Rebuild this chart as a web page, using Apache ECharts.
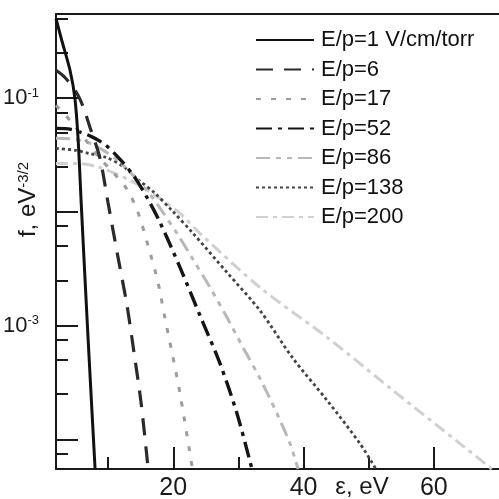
<!DOCTYPE html>
<html>
<head>
<meta charset="utf-8">
<script src="https://cdn.jsdelivr.net/npm/echarts@6/dist/echarts.min.js"></script>
<style>html,body{margin:0;padding:0;background:#fff;}#c{width:499px;height:499px;}</style>
</head>
<body>
<div id="c"></div>
<script>
// ---- data (energy eps in eV, distribution f in eV^-3/2) ----
const seriesNames = ['E/p=1 V/cm/torr', 'E/p=6', 'E/p=17', 'E/p=52', 'E/p=86', 'E/p=138', 'E/p=200'];

const eps1 = [2.0, 2.9, 4.15, 4.9, 5.4, 5.9, 6.9, 8.0];
const f1   = [0.5, 0.32, 0.176, 0.10, 0.043, 0.011, 8.2e-4, 5.5e-5];

const eps2 = [2.0, 3.38, 5.22, 6.14, 7.22, 8.75, 9.98, 11.52, 12.9, 13.97, 15.05, 16.12];
const f2   = [0.176, 0.152, 0.110, 0.0848, 0.0554, 0.0296, 0.0121, 0.00399, 0.00151, 5.83e-4, 2.12e-4, 5.7e-5];

const eps3 = [2.0, 4.15, 6.6, 8.6, 10.75, 12.9, 14.59, 16.12, 17.66, 18.73, 19.8, 21.03, 22.95];
const f3   = [0.0865, 0.0638, 0.0426, 0.0302, 0.0223, 0.0158, 0.0099, 0.00508, 0.0024, 0.00116, 5.83e-4, 2.54e-4, 5.5e-5];

const eps4 = [2.0, 4.3, 7.37, 9.67, 11.98, 13.97, 15.97, 17.96, 21.03, 24.1, 27.17, 29.78, 32.08];
const f4   = [0.0543, 0.0532, 0.0462, 0.0385, 0.0284, 0.0206, 0.0134, 0.0081, 0.00326, 0.00123, 4.66e-4, 1.69e-4, 5.5e-5];

const eps5 = [2.0, 4.92, 7.22, 9.52, 11.82, 14.13, 16.43, 18.42, 20.57, 23.03, 25.64, 28.25, 30.7, 33.31, 35.92, 37.92, 39.15];
const f5   = [0.0444, 0.0435, 0.0401, 0.0341, 0.0273, 0.0201, 0.0143, 0.0099, 0.00649, 0.00383, 0.00217, 0.00118, 6.45e-4, 3.44e-4, 1.69e-4, 9.2e-5, 5.5e-5];

const eps6 = [2.0, 5.07, 7.07, 9.67, 12.28, 14.74, 17.2, 19.8, 23.03, 28.25, 33.31, 38.38, 43.6, 48.66, 51.1];
const f6   = [0.0362, 0.0348, 0.0327, 0.0302, 0.0252, 0.019, 0.0146, 0.0103, 0.00649, 0.00294, 0.00136, 5.16e-4, 2.21e-4, 9.2e-5, 5.5e-5];

const eps7 = [2.0, 5.07, 8.6, 13.36, 17.2, 21.03, 24.1, 33.31, 43.6, 53.73, 64.01, 68.9];
const f7   = [0.0267, 0.0267, 0.0247, 0.019, 0.014, 0.00972, 0.00649, 0.00217, 7.9e-4, 2.7e-4, 9.2e-5, 5.5e-5];

// ---- axis ticks / labels ----
const xMajorTicks = [20, 40, 60];
const xMinorTicks = [10, 30, 50];
const xTickLabels = [20, 40, 60];
const yMajorTicks = [1e-4, 1e-3, 1e-2, 1e-1];
const yMinorTicks = [7.5e-5, 2.5e-4, 5e-4, 7.5e-4, 2.5e-3, 5e-3, 7.5e-3, 2.5e-2, 5e-2, 7.5e-2, 0.25, 0.5];
const yTickLabels = [1e-3, 1e-1];

const FONT = "'Liberation Sans', Arial, Helvetica, sans-serif";
const pairs = (xs, ys) => xs.map((x, i) => [x, ys[i]]);
const allEps = [eps1, eps2, eps3, eps4, eps5, eps6, eps7];
const allF = [f1, f2, f3, f4, f5, f6, f7];
const styles = [
  { color: '#111111', width: 3, type: 'solid' },
  { color: '#2a2a2a', width: 3.2, type: [17, 11] },
  { color: '#9c9c9c', width: 3, type: [5, 10] },
  { color: '#151515', width: 3.4, type: [16, 6, 4, 6] },
  { color: '#b8b8b8', width: 3, type: [14, 6, 5, 6, 5, 6] },
  { color: '#444444', width: 2.8, type: [3, 3] },
  { color: '#d0d0d0', width: 3, type: [12, 5, 4, 5] }
];

const chart = echarts.init(document.getElementById('c'), null, { renderer: 'canvas' });
const axisLineStyle = { color: '#1a1a1a', width: 2 };

chart.setOption({
  animation: false,
  backgroundColor: '#ffffff',
  grid: { left: 56, right: 0, top: 14, bottom: 30, containLabel: false, outerBoundsMode: 'none' },
  legend: {
    orient: 'vertical', left: 255, top: 29, padding: 0,
    itemWidth: 58, itemHeight: 14, itemGap: 7.5,
    itemStyle: { opacity: 0 },
    textStyle: { fontSize: 22, fontFamily: FONT, color: '#111', padding: [0, 0, 0, 2], lineHeight: 21 },
    data: seriesNames
  },
  xAxis: [
    {
      type: 'value', min: 2, max: 70, position: 'bottom',
      axisLine: { show: true, onZero: false, lineStyle: axisLineStyle },
      axisTick: { show: true, inside: true, length: 22, customValues: xMajorTicks, lineStyle: { color: '#1a1a1a', width: 2 } },
      axisLabel: { show: true, customValues: xTickLabels, margin: 7, fontSize: 25, fontFamily: FONT, color: '#1a1a1a' },
      splitLine: { show: false }
    },
    {
      type: 'value', min: 2, max: 70, position: 'bottom',
      axisLine: { show: false, onZero: false },
      axisTick: { show: true, inside: true, length: 12, customValues: xMinorTicks, lineStyle: { color: '#1a1a1a', width: 2 } },
      axisLabel: { show: false },
      splitLine: { show: false }
    },
    {
      type: 'value', min: 2, max: 70, position: 'top',
      axisLine: { show: true, onZero: false, lineStyle: axisLineStyle },
      axisTick: { show: false }, axisLabel: { show: false }, splitLine: { show: false }
    }
  ],
  yAxis: [
    {
      type: 'log', logBase: 10, min: 5.5e-5, max: 0.55, position: 'left',
      name: 'f, eV{sup|-3/2}', nameLocation: 'middle', nameGap: 16, nameRotate: 90,
      nameMoveOverlap: false,
      nameTextStyle: {
        fontSize: 24, fontFamily: FONT, color: '#1a1a1a', padding: [0, 0, 0, 84],
        rich: { sup: { fontSize: 15, fontFamily: FONT, color: '#1a1a1a', verticalAlign: 'top' } }
      },
      axisLine: { show: true, onZero: false, lineStyle: axisLineStyle },
      axisTick: { show: true, inside: true, length: 22, customValues: yMajorTicks, lineStyle: { color: '#1a1a1a', width: 2 } },
      axisLabel: {
        show: true, customValues: yTickLabels, margin: 17,
        fontSize: 22, fontFamily: FONT, color: '#1a1a1a',
        formatter: v => '10{sup|' + Math.round(Math.log10(v)) + '}',
        rich: { sup: { fontSize: 13, fontFamily: FONT, color: '#1a1a1a', verticalAlign: 'top', padding: [0, 0, 10, 0] } }
      },
      splitLine: { show: false }
    },
    {
      type: 'log', logBase: 10, min: 5.5e-5, max: 0.55, position: 'left',
      axisLine: { show: false, onZero: false },
      axisTick: { show: true, inside: true, length: 12, customValues: yMinorTicks, lineStyle: { color: '#1a1a1a', width: 2 } },
      axisLabel: { show: false },
      splitLine: { show: false }
    }
  ],
  graphic: [
    {
      type: 'text', x: 362, y: 487,
      style: { text: 'ε, eV', fontSize: 24, fontFamily: FONT, fill: '#1a1a1a', align: 'center', verticalAlign: 'middle' }
    }
  ],
  series: seriesNames.map((name, i) => ({
    name: name,
    type: 'line',
    xAxisIndex: 0, yAxisIndex: 0,
    data: pairs(allEps[i], allF[i]),
    showSymbol: false, symbol: 'none',
    smooth: 0.3,
    clip: true,
    z: 10 - i,
    itemStyle: { color: styles[i].color },
    lineStyle: { color: styles[i].color, width: styles[i].width, type: styles[i].type }
  }))
});
</script>
</body>
</html>
